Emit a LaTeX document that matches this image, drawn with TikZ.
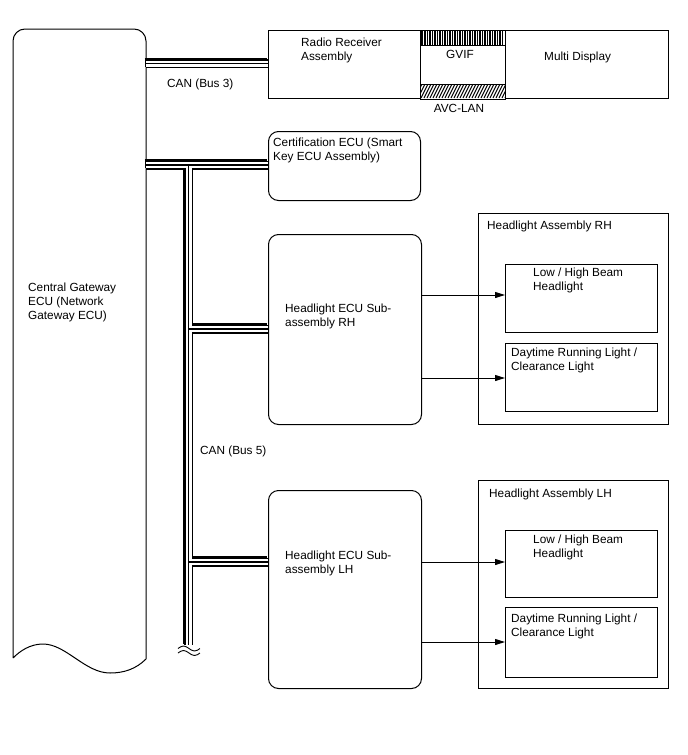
\documentclass[tikz,border=0pt]{standalone}
\usepackage{fontspec}
\setmainfont{Liberation Sans}
\usetikzlibrary{arrows.meta}
\begin{document}
\begin{tikzpicture}[x=1pt,y=-1pt,
  box/.style={draw, line width=1pt, inner sep=0pt, anchor=north west},
  rbox/.style={box, rounded corners=10pt},
  lbl/.style={anchor=base west, inner sep=0pt, align=left, font=\fontsize{11.8}{14}\selectfont},
  mlbl/.style={lbl, anchor=north west, yshift=8.7pt},
  clbl/.style={lbl, anchor=base},
  sig/.style={line width=1pt, -{Triangle[length=10pt,width=6pt]}},
  bus/.style={draw=white, line width=6pt,
    preaction={draw=black, line width=9pt, transform canvas={shift={(-1.5pt,1.5pt)}}},
    preaction={draw=black, line width=9pt},
    postaction={draw=black, line width=1.2pt}}]
\useasboundingbox (0,0) rectangle (688,755);

% Central Gateway ECU
\draw[line width=1pt] (13,658) [rounded corners=12pt] -- (13,29) -- (146,29) [sharp corners] -- (146,659)
  .. controls (136,669) and (124,673) .. (110,673)
  .. controls (85,673) and (66,644) .. (43,644)
  .. controls (30,644) and (20,651) .. (13,658);
\node[mlbl] (cgwtxt) at (28,291) {Central Gateway\\ECU (Network\\Gateway ECU)};
\coordinate (gw3) at (146,63.5);
\coordinate (gw5) at (146,165);

% Top row
\node[box, minimum width=152pt, minimum height=68pt] (radio) at (268,30) {};
\node[mlbl] (radiotxt) at (301,46) {Radio Receiver\\Assembly};
\node[box, minimum width=163pt, minimum height=68pt] (disp) at (505,30) {};
\node[lbl] (disptxt) at (544,60) {Multi Display};

% GVIF hatch
\draw[line width=1pt] (radio.north east) rectangle (505,45);
\foreach \x in {422.5,425,...,504} \draw[line width=1.1pt] (\x,30) -- (\x,45);
\node[clbl] (gviftxt) at (460,58.5) {GVIF};
% AVC-LAN hatch
\begin{scope}
\clip (420,84) rectangle (505,98);
\foreach \x in {412,415,...,506} \draw[line width=1.1pt] (\x,98) -- (\x+7,84);
\end{scope}
\draw[line width=1pt] (420,84) rectangle (radio.south east -| disp.west);
\node[clbl] (avctxt) at (459,112) {AVC-LAN};

% Certification ECU
\node[rbox, minimum width=152pt, minimum height=69pt] (cert) at (268,131) {};
\node[mlbl] (certtxt) at (273,146) {Certification ECU (Smart\\Key ECU Assembly)};

% Headlight ECU RH / LH
\node[rbox, minimum width=153pt, minimum height=190pt] (ecuR) at (268,234) {};
\node[mlbl] (ecuRtxt) at (285,312) {Headlight ECU Sub-\\assembly RH};
\node[rbox, minimum width=153pt, minimum height=198pt] (ecuL) at (268,490) {};
\node[mlbl] (ecuLtxt) at (285,559) {Headlight ECU Sub-\\assembly LH};

% Headlight Assembly RH
\node[box, minimum width=190pt, minimum height=211pt] (asmR) at (478,213) {};
\node[lbl] (asmRtxt) at (487,229) {Headlight Assembly RH};
\node[box, minimum width=152pt, minimum height=68pt] (lowR) at (505,264) {};
\node[mlbl] (lowRtxt) at (533,276) {Low / High Beam\\Headlight};
\node[box, minimum width=152pt, minimum height=68pt] (drlR) at (505,343) {};
\node[mlbl] (drlRtxt) at (511,356) {Daytime Running Light /\\Clearance Light};

% Headlight Assembly LH
\node[box, minimum width=190pt, minimum height=208pt] (asmL) at (478,480) {};
\node[lbl] (asmLtxt) at (489,497) {Headlight Assembly LH};
\node[box, minimum width=152pt, minimum height=67pt] (lowL) at (505,530) {};
\node[mlbl] (lowLtxt) at (533,543) {Low / High Beam\\Headlight};
\node[box, minimum width=152pt, minimum height=70pt] (drlL) at (505,607) {};
\node[mlbl] (drlLtxt) at (511,622) {Daytime Running Light /\\Clearance Light};

% signal arrows
\draw[sig] (ecuR.east |- 0,295) -- (lowR.west |- 0,295);
\draw[sig] (ecuR.east |- 0,378) -- (drlR.west |- 0,378);
\draw[sig] (ecuL.east |- 0,562) -- (lowL.west |- 0,562);
\draw[sig] (ecuL.east |- 0,642) -- (drlL.west |- 0,642);

% CAN buses
\coordinate (vtop) at (188.5,165);
\coordinate (vend) at (188.5,645);
\coordinate (jR) at (188.5,329);
\coordinate (jL) at (188.5,562);
\path[bus] (gw3) -- (gw3 -| radio.west)
  (gw5) -- (gw5 -| cert.west)
  (vtop) -- (vend)
  (jR) -- (jR -| ecuR.west)
  (jL) -- (jL -| ecuL.west);
\node[lbl] (bus3txt) at (167,87) {CAN (Bus 3)};
\node[lbl] (bus5txt) at (200,454) {CAN (Bus 5)};
% break mark
\draw[line width=0.9pt] (178,648.5) sin (183.5,646) cos (189,648.5) sin (194.5,651) cos (200,648.5);
\draw[line width=0.9pt] (178,653) sin (183.5,650.5) cos (189,653) sin (194.5,655.5) cos (200,653);
\end{tikzpicture}
\end{document}
